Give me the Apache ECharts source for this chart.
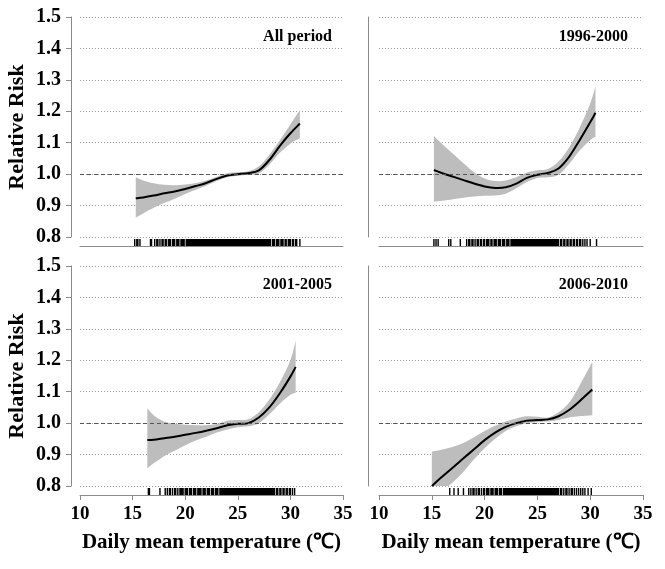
<!DOCTYPE html>
<html><head><meta charset="utf-8">
<script src="https://cdn.jsdelivr.net/npm/echarts@6/dist/echarts.min.js"></script>
<style>html,body{margin:0;padding:0;background:#fff}#c{width:665px;height:569px}</style>
</head><body><div id="c"></div><script>
const panelTitles = ['All period', '1996-2000', '2001-2005', '2006-2010'];
const yAxisName = 'Relative Risk';
const xAxisName = 'Daily mean temperature (\u2103)';
const yMin = 0.8, yMax = 1.5, yStep = 0.1;
const xMin = 10, xMax = 35, xStep = 5;
const refRR = 1.0;

// Panel 1: All period
const p1Temp  = [15.3, 16, 17, 18, 19, 20, 21, 22, 23, 24, 25, 26, 27, 28, 29, 30, 30.9];
const p1RR    = [0.923, 0.926, 0.932, 0.939, 0.945, 0.953, 0.962, 0.972, 0.985, 0.996, 1.0, 1.003, 1.012, 1.045, 1.09, 1.13, 1.161];
const p1Upper = [0.99, 0.98, 0.971, 0.966, 0.965, 0.967, 0.972, 0.98, 0.992, 1.003, 1.006, 1.009, 1.025, 1.062, 1.108, 1.158, 1.204];
const p1Lower = [0.862, 0.875, 0.893, 0.908, 0.922, 0.937, 0.95, 0.963, 0.978, 0.99, 0.995, 0.998, 1.002, 1.03, 1.068, 1.097, 1.114];
const p1Rug = [15.2, 15.4, 15.5, 15.7, 16.7, 16.8, 17.1, 17.3, 17.4, 17.6, 17.8, 17.9, 18.1, 18.2, 18.4, 18.5, 18.6, 18.8, 18.9, 19.0, 19.2, 19.3, 19.4, 19.6, 19.7, 19.8, 19.9, 20.1, 20.2,
  20.3, 20.4, 20.5, 20.6, 20.7, 20.8, 20.9, 21.0, 21.1, 21.2, 21.3, 21.4, 21.5, 21.6, 21.7, 21.8, 21.9, 22.0, 22.1, 22.2, 22.3, 22.4, 22.5, 22.6, 22.7, 22.8, 22.9,
  23.0, 23.1, 23.2, 23.3, 23.4, 23.5, 23.6, 23.7, 23.8, 23.9, 24.0, 24.1, 24.2, 24.3, 24.4, 24.5, 24.6, 24.7, 24.8, 24.9, 25.0, 25.1, 25.2, 25.3, 25.4, 25.5, 25.6,
  25.7, 25.8, 25.9, 26.0, 26.1, 26.2, 26.3, 26.4, 26.5, 26.6, 26.7, 26.8, 26.9, 27.0, 27.1, 27.2, 27.3, 27.4, 27.5, 27.6, 27.7, 27.8, 27.9,
  28.0, 28.1, 28.3, 28.4, 28.5, 28.7, 28.8, 28.9, 29.1, 29.2, 29.3, 29.5, 29.6, 29.8, 29.9, 30.0, 30.2, 30.3, 30.5, 30.6, 30.9];

// Panel 2: 1996-2000
const p2Temp  = [15.2, 16, 17, 18, 19, 20, 21, 22, 23, 24, 25, 26, 27, 28, 29, 30, 30.5];
const p2RR    = [1.013, 1.003, 0.992, 0.981, 0.97, 0.961, 0.956, 0.958, 0.97, 0.988, 0.998, 1.004, 1.018, 1.055, 1.108, 1.165, 1.195];
const p2Upper = [1.121, 1.095, 1.065, 1.035, 1.006, 0.986, 0.978, 0.98, 0.99, 1.005, 1.012, 1.016, 1.04, 1.085, 1.148, 1.225, 1.28];
const p2Lower = [0.912, 0.915, 0.92, 0.925, 0.929, 0.931, 0.932, 0.938, 0.955, 0.975, 0.988, 0.99, 0.998, 1.032, 1.075, 1.108, 1.119];
const p2Rug = [15.2, 15.4, 15.6, 16.6, 16.8, 17.7, 18.3, 18.5, 18.6, 18.8, 18.9, 19.1, 19.3, 19.4, 19.6, 19.7, 19.9, 20.0, 20.2, 20.3, 20.4, 20.6, 20.7, 20.9, 21.0,
  21.1, 21.3, 21.4, 21.5, 21.7, 21.8, 21.9, 22.1, 22.2, 22.3, 22.5, 22.6,
  22.7, 22.8, 22.9, 23.0, 23.1, 23.2, 23.3, 23.4, 23.5, 23.6, 23.7, 23.8, 23.9, 24.0, 24.1, 24.2, 24.3, 24.4, 24.5, 24.6, 24.7, 24.8, 24.9, 25.0, 25.1, 25.2,
  25.3, 25.4, 25.5, 25.6, 25.7, 25.8, 25.9, 26.0, 26.1, 26.2, 26.3, 26.4, 26.5, 26.6, 26.7, 26.8, 26.9,
  27.0, 27.2, 27.3, 27.5, 27.6, 27.8, 27.9, 28.1, 28.2, 28.4, 28.5, 28.7, 28.8, 29.0, 29.1, 29.3, 29.5, 29.7, 30.0, 30.6];

// Panel 3: 2001-2005
const p3Temp  = [16.4, 17, 18, 19, 20, 21, 22, 23, 24, 25, 26, 27, 28, 29, 30, 30.5];
const p3RR    = [0.946, 0.947, 0.952, 0.957, 0.963, 0.969, 0.976, 0.984, 0.993, 0.998, 1.0, 1.018, 1.05, 1.095, 1.148, 1.179];
const p3Upper = [1.047, 1.025, 1.005, 0.998, 0.995, 0.993, 0.993, 0.997, 1.008, 1.01, 1.012, 1.035, 1.075, 1.13, 1.2, 1.262];
const p3Lower = [0.856, 0.872, 0.895, 0.912, 0.93, 0.945, 0.957, 0.97, 0.98, 0.987, 0.99, 1.0, 1.028, 1.062, 1.09, 1.097];
const p3Rug = [16.5, 16.6, 17.6, 18.1, 18.3, 18.5, 18.6, 18.8, 19.0, 19.1, 19.3, 19.5, 19.6, 19.7, 19.8, 20.0, 20.1, 20.2, 20.4, 20.5, 20.6, 20.8, 20.9, 21.0,
  21.2, 21.3, 21.4, 21.5, 21.7, 21.8, 21.9, 22.1, 22.2, 22.3, 22.5, 22.6, 22.7, 22.9, 23.0, 23.1,
  23.3, 23.4, 23.5, 23.6, 23.7, 23.8, 23.9, 24.0, 24.1, 24.2, 24.3, 24.4, 24.5, 24.6, 24.7, 24.8, 24.9, 25.0, 25.1, 25.2, 25.3, 25.4, 25.5, 25.6, 25.7, 25.8,
  25.9, 26.0, 26.1, 26.2, 26.3, 26.4, 26.5, 26.6, 26.7, 26.8, 26.9, 27.0, 27.1, 27.2, 27.3, 27.4, 27.5, 27.6, 27.7, 27.8, 27.9, 28.0, 28.1, 28.2, 28.3, 28.4,
  28.5, 28.7, 28.8, 29.0, 29.1, 29.3, 29.4, 29.6, 29.7, 29.9, 30.0, 30.2, 30.4];

// Panel 4: 2006-2010
const p4Temp  = [15, 16, 17, 18, 19, 20, 21, 22, 23, 24, 25, 26, 27, 28, 29, 30.2];
const p4RR    = [0.8, 0.83, 0.859, 0.888, 0.917, 0.946, 0.97, 0.988, 1.0, 1.008, 1.01, 1.012, 1.022, 1.042, 1.07, 1.107];
const p4Upper = [0.909, 0.916, 0.925, 0.937, 0.955, 0.975, 0.992, 1.005, 1.015, 1.022, 1.02, 1.018, 1.035, 1.065, 1.12, 1.195];
const p4Lower = [0.765, 0.787, 0.812, 0.845, 0.885, 0.92, 0.95, 0.975, 0.99, 1.0, 1.003, 1.005, 1.01, 1.018, 1.022, 1.025];
const p4Rug = [16.7, 17.1, 17.5, 18.0, 18.5, 18.7, 18.9, 19.0, 19.2, 19.4, 19.5, 19.7, 19.9, 20.0, 20.2, 20.3, 20.4, 20.6, 20.7, 20.8, 21.0, 21.1, 21.2,
  21.4, 21.5, 21.6, 21.8, 21.9, 22.0,
  22.1, 22.2, 22.3, 22.4, 22.5, 22.6, 22.7, 22.8, 22.9, 23.0, 23.1, 23.2, 23.3, 23.4, 23.5, 23.6, 23.7, 23.8, 23.9, 24.0, 24.1, 24.2, 24.3, 24.4, 24.5, 24.6,
  24.7, 24.8, 24.9, 25.0, 25.1, 25.2, 25.3, 25.4, 25.5, 25.6, 25.7, 25.8, 25.9, 26.0, 26.1, 26.2, 26.3, 26.4, 26.5, 26.6, 26.7, 26.8, 26.9,
  27.0, 27.2, 27.3, 27.5, 27.7, 27.8, 28.0, 28.2, 28.3, 28.5, 28.7, 28.9, 29.1, 29.3, 29.5, 29.8, 30.1];

const panels = [
  {temp: p1Temp, rr: p1RR, up: p1Upper, lo: p1Lower, rug: p1Rug},
  {temp: p2Temp, rr: p2RR, up: p2Upper, lo: p2Lower, rug: p2Rug},
  {temp: p3Temp, rr: p3RR, up: p3Upper, lo: p3Lower, rug: p3Rug},
  {temp: p4Temp, rr: p4RR, up: p4Upper, lo: p4Lower, rug: p4Rug}
];

const FONT = "'Liberation Serif', 'Times New Roman', serif";
const axisGrey = '#8a8a8a';
const grids = [
  {left: 80, right: 322, top: 17, bottom: 332},
  {left: 379, right: 22, top: 17, bottom: 332},
  {left: 80, right: 322, top: 266, bottom: 83},
  {left: 379, right: 22, top: 266, bottom: 83}
];
const isLeft = [true, false, true, false];
const isBottom = [false, false, true, true];

// Catmull-Rom spline through pixel points -> SVG path segments
function splineSegs(pts) {
  let d = '';
  for (let i = 0; i < pts.length - 1; i++) {
    const p0 = pts[i - 1] || pts[i], p1 = pts[i], p2 = pts[i + 1], p3 = pts[i + 2] || pts[i + 1];
    const c1 = [p1[0] + (p2[0] - p0[0]) / 6, p1[1] + (p2[1] - p0[1]) / 6];
    const c2 = [p2[0] - (p3[0] - p1[0]) / 6, p2[1] - (p3[1] - p1[1]) / 6];
    d += ' C' + c1[0] + ',' + c1[1] + ' ' + c2[0] + ',' + c2[1] + ' ' + p2[0] + ',' + p2[1];
  }
  return d;
}

const xAxes = grids.map((g, i) => ({
  type: 'value', gridIndex: i, min: xMin, max: xMax, interval: xStep, offset: 9,
  axisLine: {show: true, lineStyle: {color: axisGrey, width: 1}},
  axisTick: {show: isBottom[i], length: 5, lineStyle: {color: axisGrey}},
  axisLabel: {show: isBottom[i], margin: 10, color: '#000', fontFamily: FONT, fontWeight: 'bold', fontSize: 19},
  splitLine: {show: false},
  name: isBottom[i] ? xAxisName : '', nameLocation: 'middle', nameGap: 37,
  nameTextStyle: {color: '#000', fontFamily: FONT, fontWeight: 'bold', fontSize: 21}
}));

const yAxes = grids.map((g, i) => ({
  type: 'value', gridIndex: i, min: yMin, max: yMax, interval: yStep, offset: isLeft[i] ? 9 : 11,
  axisLine: {show: true, lineStyle: {color: axisGrey, width: 1}},
  axisTick: {show: isLeft[i], length: 5, lineStyle: {color: axisGrey}},
  axisLabel: {show: isLeft[i], margin: 10, color: '#000', fontFamily: FONT, fontWeight: 'bold', fontSize: 20,
    formatter: v => v.toFixed(1)},
  splitLine: {show: true, lineStyle: {color: '#9a9a9a', type: [1, 2], width: 1}},
  name: isLeft[i] ? yAxisName : '', nameLocation: 'middle', nameGap: 43, nameRotate: 90,
  nameTextStyle: {color: '#000', fontFamily: FONT, fontWeight: 'bold', fontSize: 22}
}));

const series = [];
panels.forEach((p, i) => {
  // confidence band
  series.push({
    type: 'custom', xAxisIndex: i, yAxisIndex: i, silent: true, z: 1,
    data: p.temp.map((t, k) => [t, p.lo[k], p.up[k]]),
    encode: {x: 0, y: [1, 2]},
    renderItem: (params, api) => {
      if (params.dataIndex !== 0) return null;
      const upPts = p.temp.map((t, k) => api.coord([t, p.up[k]]));
      const loPts = p.temp.map((t, k) => api.coord([t, p.lo[k]])).reverse();
      const d = 'M' + upPts[0][0] + ',' + upPts[0][1] + splineSegs(upPts) +
        ' L' + loPts[0][0] + ',' + loPts[0][1] + splineSegs(loPts) + ' Z';
      const cs = params.coordSys;
      return {
        type: 'path', shape: {pathData: d},
        style: {fill: '#bdbdbd', stroke: 'none'},
        clipPath: {type: 'rect', shape: {x: cs.x, y: cs.y, width: cs.width, height: cs.height}}
      };
    }
  });
  // RR curve
  series.push({
    type: 'custom', xAxisIndex: i, yAxisIndex: i, silent: true, z: 3,
    data: p.temp.map((t, k) => [t, p.rr[k]]),
    encode: {x: 0, y: 1},
    renderItem: (params, api) => {
      if (params.dataIndex !== 0) return null;
      const pts = p.temp.map((t, k) => api.coord([t, p.rr[k]]));
      const cs = params.coordSys;
      return {
        type: 'path', shape: {pathData: 'M' + pts[0][0] + ',' + pts[0][1] + splineSegs(pts)},
        style: {fill: 'none', stroke: '#000', lineWidth: 2},
        clipPath: {type: 'rect', shape: {x: cs.x - 2, y: cs.y, width: cs.width + 4, height: cs.height + 1}}
      };
    }
  });
  // reference line at RR = 1
  series.push({
    type: 'line', xAxisIndex: i, yAxisIndex: i, data: [], symbol: 'none',
    markLine: {silent: true, symbol: ['none', 'none'], label: {show: false},
      lineStyle: {color: '#555', type: [4, 3], width: 1}, data: [{yAxis: refRR}]}, z: 2
  });
  // rug: ticks at observed temperatures; runs of values 0.1 apart drawn as one solid block
  series.push({
    type: 'custom', xAxisIndex: i, yAxisIndex: i, clip: false, silent: true, z: 4,
    data: p.rug.map(v => [v, yMin]),
    encode: {x: 0, y: 1},
    renderItem: (params, api) => {
      if (params.dataIndex !== 0) return null;
      const runs = [];
      let s = p.rug[0], e = p.rug[0];
      for (let k = 1; k < p.rug.length; k++) {
        if (p.rug[k] - e < 0.15) { e = p.rug[k]; } else { runs.push([s, e]); s = e = p.rug[k]; }
      }
      runs.push([s, e]);
      const children = runs.map(r => {
        const a = api.coord([r[0], yMin]), b = api.coord([r[1], yMin]);
        return {type: 'rect', shape: {x: a[0] - 0.7, y: a[1] + 2, width: b[0] - a[0] + 1.4, height: 7},
          style: {fill: '#000'}};
      });
      return {type: 'group', children: children};
    }
  });
});

const titles = panelTitles.map((t, i) => ({
  text: t, right: isLeft[i] ? 328 : 32, top: isBottom[i] ? 272 : 24,
  textStyle: {fontFamily: FONT, fontWeight: 'bold', fontSize: 16, color: '#000'}
}));

const chart = echarts.init(document.getElementById('c'));
chart.setOption({
  animation: false, backgroundColor: '#fff',
  title: titles, grid: grids, xAxis: xAxes, yAxis: yAxes, series: series
});
</script></body></html>
